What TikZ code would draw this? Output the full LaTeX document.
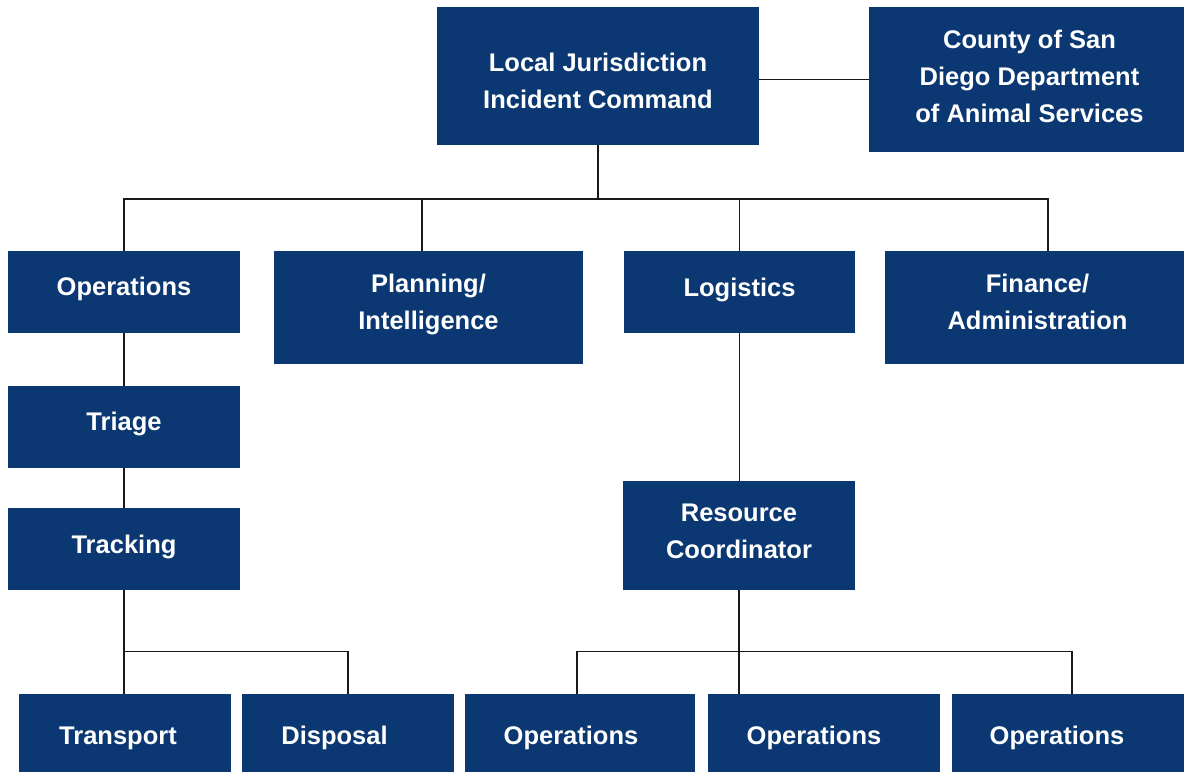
\documentclass[tikz,border=0pt]{standalone}
\usepackage{fontspec}
\setmainfont{Liberation Sans}
\definecolor{navy}{RGB}{11,55,114}
\tikzset{
  box/.style={fill=navy, inner sep=0pt},
  txt/.style={text=white, inner sep=0pt, align=center,
    font=\fontsize{25.5}{37}\selectfont\bfseries},
  conn/.style={draw=black!90, line width=1.7pt}
}
\begin{document}
\begin{tikzpicture}[x=1pt,y=-1pt]
\useasboundingbox (0,0) rectangle (1184,772);
% top level
\node[box, minimum width=322, minimum height=138,
  label={[txt, yshift=-5pt]center:Local Jurisdiction\\Incident Command}] (cmd) at (598,76) {};
\node[box, minimum width=315, minimum height=145,
  label={[txt, xshift=3pt, yshift=3pt]center:County of San\\Diego Department\\of Animal Services}] (county) at (1026.5,79.5) {};
% sections
\node[box, minimum width=232, minimum height=82,
  label={[txt, yshift=3pt]center:Operations}] (ops) at (124,292) {};
\node[box, minimum width=309, minimum height=113,
  label={[txt, yshift=3pt]center:Planning/\\Intelligence}] (plan) at (428.5,307.5) {};
\node[box, minimum width=231, minimum height=82,
  label={[txt, yshift=2pt]center:Logistics}] (log) at (739.5,292) {};
\node[box, minimum width=299, minimum height=113,
  label={[txt, xshift=3pt, yshift=6pt]center:Finance/\\Administration}] (fin) at (1034.5,307.5) {};
% left column
\node[box, minimum width=232, minimum height=82,
  label={[txt, yshift=3pt]center:Triage}] (triage) at (124,427) {};
\node[box, minimum width=232, minimum height=82,
  label={[txt, yshift=2pt]center:Tracking}] (track) at (124,549) {};
% right column
\node[box, minimum width=232, minimum height=109,
  label={[txt, yshift=4pt]center:Resource\\Coordinator}] (res) at (739,535.5) {};
% bottom row
\node[box, minimum width=212, minimum height=78,
  label={[txt, xshift=-7pt, yshift=-5pt]center:Transport}] (transport) at (125,733) {};
\node[box, minimum width=212, minimum height=78,
  label={[txt, xshift=-13.5pt, yshift=-5pt]center:Disposal}] (disp) at (348,733) {};
\node[box, minimum width=230, minimum height=78,
  label={[txt, xshift=-9pt, yshift=-5pt]center:Operations}] (op1) at (580,733) {};
\node[box, minimum width=232, minimum height=78,
  label={[txt, xshift=-10pt, yshift=-5pt]center:Operations}] (op2) at (824,733) {};
\node[box, minimum width=232, minimum height=78,
  label={[txt, xshift=-11pt, yshift=-5pt]center:Operations}] (op3) at (1068,733) {};
% helper coordinates
\coordinate (bus) at (596,199);
\coordinate (lb) at (124,651.5);
\coordinate (rb) at (739,651.5);
\coordinate (planT) at ([xshift=-6.5pt]plan.north);
\coordinate (finT) at ([xshift=13.5pt]fin.north);
\coordinate (op1T) at ([xshift=-3pt]op1.north);
\coordinate (op3T) at ([xshift=4pt]op3.north);
% connectors
\draw[conn] (county.west) -- (county.west -| cmd.east);
\draw[conn] (cmd.south) -- (cmd.south |- bus);
\draw[conn] (ops.north) |- (finT |- bus) -- (finT);
\draw[conn] (planT) -- (planT |- bus);
\draw[conn] (log.north) -- (log.north |- bus);
\draw[conn] (ops.south) -- (triage.north);
\draw[conn] (triage.south) -- (track.north);
\draw[conn] (track.south) -- (track.south |- transport.north);
\draw[conn] (track.south |- lb) -| (disp.north);
\draw[conn] (log.south) -- (log.south |- res.north);
\draw[conn] (res.south) -- (res.south |- op2.north);
\draw[conn] (op1T) |- (op3T |- rb) -- (op3T);
\end{tikzpicture}
\end{document}
